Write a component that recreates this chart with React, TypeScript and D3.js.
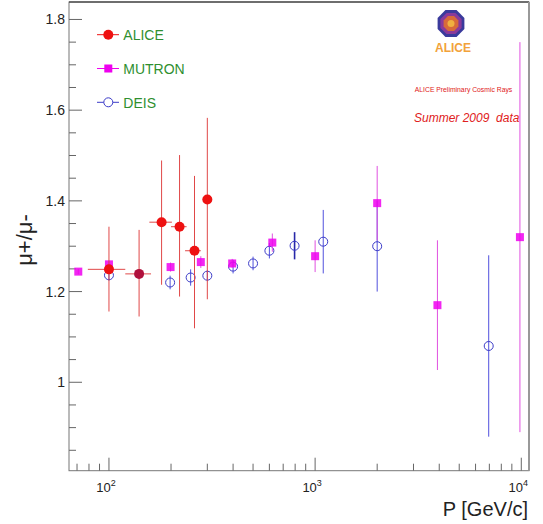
import * as d3 from 'd3';

// ALICE points: momentum, ratio, vertical error range, horizontal bin edges
const aliceP = [100, 140, 180, 220, 260, 300];
const aliceR = [1.249, 1.239, 1.353, 1.343, 1.29, 1.403];
const aliceLo = [1.156, 1.145, 1.215, 1.189, 1.119, 1.183];
const aliceHi = [1.343, 1.336, 1.489, 1.501, 1.455, 1.583];
const alicePLo = [79, 120, 157, 200, 234, 300];
const alicePHi = [120, 160, 202, 238, 279, 300];

const mutronP = [71, 100, 199, 279, 396, 620, 1000, 2000, 3920, 9850];
const mutronR = [1.244, 1.26, 1.254, 1.265, 1.262, 1.308, 1.278, 1.395, 1.17, 1.32];
const mutronErr = [0.006, 0.008, 0.01, 0.013, 0.01, 0.02, 0.035, 0.082, 0.143, 0.43];

const deisP = [100, 198, 249, 300, 400, 500, 600, 795, 1095, 2000, 6950];
const deisR = [1.236, 1.22, 1.231, 1.235, 1.255, 1.262, 1.29, 1.301, 1.31, 1.3, 1.08];
const deisErr = [0.012, 0.015, 0.018, 0.012, 0.015, 0.015, 0.017, 0.03, 0.07, 0.1, 0.2];

const yMajor = [1, 1.2, 1.4, 1.6, 1.8];
const yLabels = ['1', '1.2', '1.4', '1.6', '1.8'];
const xMajor = [100, 1000, 10000];
const xExp = ['2', '3', '4'];

const legendNames = ['ALICE', 'MUTRON', 'DEIS'];

const W = 543;
const H = 524;
const left = 69, right = 529, top = 2, bottom = 470.7;
const font = 'Liberation Sans, Arial, sans-serif';

export default function App() {
  const x = d3.scaleLog().domain([64, 10900]).range([left, right]);
  const y = d3.scaleLinear().domain([0.805, 1.8385]).range([bottom, top]);

  const yMinor = d3.range(0.85, 1.8001, 0.05).filter(v => !yMajor.some(m => Math.abs(m - v) < 1e-6));
  const xMinor = [70, 80, 90, 200, 300, 400, 500, 600, 700, 800, 900, 2000, 3000, 4000, 5000, 6000, 7000, 8000, 9000];

  // ALICE logo octagon
  const oct = (r: number) =>
    d3.range(8).map(i => {
      const a = Math.PI / 8 + (i * Math.PI) / 4;
      return [451 + r * Math.cos(a), 23.5 + r * Math.sin(a)].join(',');
    }).join(' ');

  return (
    <svg width={W} height={H} style={{ position: 'absolute', left: 0, top: 0, background: '#fff' }}>
      {/* frame */}
      <rect x={left} y={top} width={right - left} height={bottom - top} fill="none" stroke="#777" strokeWidth={1} />
      <line x1={left} x2={right} y1={top} y2={top} stroke="#222" strokeWidth={1} />
      <line x1={right} x2={right} y1={top} y2={bottom} stroke="#999" strokeWidth={2} />

      {/* y ticks */}
      {yMajor.map((v, i) => (
        <g key={'ym' + i}>
          <line x1={left} x2={left + 13} y1={y(v)} y2={y(v)} stroke="#666" />
          <text x={65} y={y(v) + 5} textAnchor="end" fontFamily={font} fontSize={14} fill="#222">{yLabels[i]}</text>
        </g>
      ))}
      {yMinor.map((v, i) => (
        <line key={'yn' + i} x1={left} x2={left + 7} y1={y(v)} y2={y(v)} stroke="#666" />
      ))}

      {/* x ticks */}
      {xMajor.map((v, i) => (
        <g key={'xm' + i}>
          <line x1={x(v)} x2={x(v)} y1={bottom} y2={bottom - 13} stroke="#666" />
          <text x={x(v) - 3} y={492} textAnchor="middle" fontFamily={font} fontSize={13} fill="#222">
            10<tspan dy={-6} fontSize={9}>{xExp[i]}</tspan>
          </text>
        </g>
      ))}
      {xMinor.map((v, i) => (
        <line key={'xn' + i} x1={x(v)} x2={x(v)} y1={bottom} y2={bottom - 7} stroke="#666" />
      ))}

      {/* axis titles */}
      <text x={528} y={516} textAnchor="end" fontFamily={font} fontSize={20} fill="#222">P [GeV/c]</text>
      <text transform="translate(32,240) rotate(-90)" textAnchor="middle" fontFamily={font} fontSize={22} fill="#222">μ+/μ-</text>

      {/* DEIS */}
      {deisP.map((p, i) => (
        <g key={'d' + i}>
          <line x1={x(p)} x2={x(p)} y1={y(deisR[i] - deisErr[i])} y2={y(deisR[i] + deisErr[i])}
            stroke={i === 7 ? '#2828a8' : '#5050dd'} strokeWidth={i === 7 ? 1.6 : 1} />
          <circle cx={x(p)} cy={y(deisR[i])} r={4.5} fill="none" stroke="#3c3cc8" strokeWidth={1} />
        </g>
      ))}

      {/* MUTRON */}
      {mutronP.map((p, i) => (
        <g key={'m' + i}>
          <line x1={x(p)} x2={x(p)} y1={y(mutronR[i] - mutronErr[i])} y2={y(mutronR[i] + mutronErr[i])}
            stroke="#e050e0" strokeWidth={1} />
          <rect x={x(p) - 4} y={y(mutronR[i]) - 4} width={8} height={8} fill="#ee00ee" opacity={0.85} />
        </g>
      ))}

      {/* ALICE */}
      {aliceP.map((p, i) => (
        <g key={'a' + i}>
          <line x1={x(p)} x2={x(p)} y1={y(aliceLo[i])} y2={y(aliceHi[i])} stroke="#e04848" strokeWidth={1} />
          <line x1={x(alicePLo[i])} x2={x(alicePHi[i])} y1={y(aliceR[i])} y2={y(aliceR[i])} stroke="#e04848" strokeWidth={1} />
          <circle cx={x(p)} cy={y(aliceR[i])} r={5} fill={i === 1 ? '#b0103c' : '#ee1111'} />
        </g>
      ))}

      {/* legend */}
      {legendNames.map((n, i) => {
        const ly = 34.7 + i * 33.8;
        const col = ['#ee1111', '#ee00ee', '#3c3cc8'][i];
        return (
          <g key={'l' + i}>
            <line x1={97} x2={119} y1={ly} y2={ly} stroke={col} strokeWidth={1} />
            {i === 0 && <circle cx={108.3} cy={ly} r={5} fill={col} />}
            {i === 1 && <rect x={104.3} y={ly - 4} width={8} height={8} fill={col} />}
            {i === 2 && <circle cx={108.3} cy={ly} r={4.5} fill="#fff" stroke={col} />}
            <text x={123.3} y={ly + 5.5} fontFamily={font} fontSize={14} fill="#2f8f2f">{n}</text>
          </g>
        );
      })}

      {/* logo */}
      <polygon points={oct(14.5)} fill="#3a3a9c" />
      <polygon points={oct(11.5)} fill="#8a3a9a" />
      <polygon points={oct(8)} fill="#d86a3a" />
      <circle cx={451} cy={23.5} r={3.5} fill="#f0b040" />
      <text x={453} y={52} textAnchor="middle" fontFamily={font} fontWeight="bold" fontSize={12} fill="#f2a23a">ALICE</text>

      {/* annotations */}
      <text x={463.5} y={91.5} textAnchor="middle" fontFamily={font} fontSize={6.8} fill="#e02020">ALICE Preliminary Cosmic Rays</text>
      <text x={414} y={122} fontFamily={font} fontStyle="italic" fontSize={12} fill="#e02020" style={{ whiteSpace: 'pre' }}>Summer 2009  data</text>
    </svg>
  );
}
